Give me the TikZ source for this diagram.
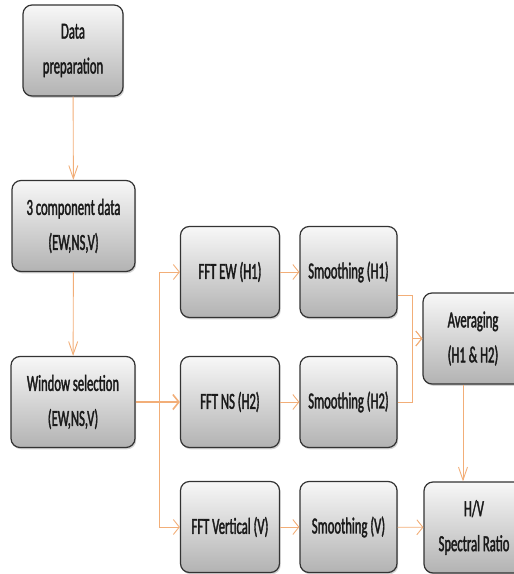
\documentclass[tikz,border=0pt]{standalone}
\usepackage{fontspec}
\usepackage{xcolor}
\usetikzlibrary{arrows.meta}
\usetikzlibrary{shadows}
\newfontfamily\boxfont[FakeStretch=0.55,FakeBold=1.6]{Carlito}
\definecolor{flowline}{HTML}{F2AE78}
\definecolor{boxedge}{HTML}{333333}
\definecolor{boxtext}{HTML}{1A1A1A}

\begin{document}
\begin{tikzpicture}[x=1pt,y=-1pt,
                    stepbox/.style={draw=boxedge,line width=1.2pt,rounded corners=9pt,
                        top color=black!3,bottom color=black!30,
                        drop shadow={shadow xshift=1.2pt,shadow yshift=-1.8pt,opacity=0.35},
                        minimum width=#1,minimum height=91pt,inner sep=0pt,align=center,
                        text=boxtext,font=\boxfont\fontsize{23}{35}\selectfont},
                    stepbox/.default=99pt,
                    harrow/.style={draw=flowline,line width=0.9pt,-{Straight Barb[length=6pt,width=15pt]}},
                    varrow/.style={draw=flowline,line width=0.9pt,-{Straight Barb[length=13pt,width=9pt]}}]
                    \useasboundingbox (0,0) rectangle (514,574);
                    \clip (0,0) rectangle (514,574);

                    \node[stepbox=100pt] (prep) at (73,50.5){Data\\preparation};
                    \node[stepbox=123pt] (comp) at (73.5,226){3 component data\\(EW,NS,V)};
                    \node[stepbox=124pt] (win) at (73,402){Window selection\\(EW,NS,V)};

                    \node[stepbox] (fftew) at (230,272){FFT EW (H1)};
                    \node[stepbox] (fftns) at (230,402){FFT NS (H2)};
                    \node[stepbox] (fftv) at (230,527){FFT Vertical (V)};

                    \node[stepbox=97pt] (smh1) at (348.5,272){Smoothing (H1)};
                    \node[stepbox=97pt] (smh2) at (348.5,402){Smoothing (H2)};
                    \node[stepbox=97pt] (smv) at (348.5,527){Smoothing (V)};

                    \node[stepbox=100pt] (avg) at (473,338.5){Averaging\\(H1 \& H2)};
                    \node[stepbox=100pt] (hv) at (474,527.5){H/V\\Spectral Ratio};

                    \coordinate (split) at (159,402);
                    \coordinate (join) at (412,338.5);

                    \draw[varrow] (prep) -- (comp);
                    \draw[varrow] (comp) -- (win);
                    \draw[harrow] (win.east) -- (split) |- (fftew.west);
                    \draw[harrow,line width=1.6pt] (win.east) -- (fftns.west);
                    \draw[harrow] (win.east) -- (split) |- (fftv.west);

                    \draw[harrow] (fftew) -- (smh1);
                    \draw[harrow] (fftns) -- (smh2);
                    \draw[harrow] (fftv) -- (smv);

                    \draw[harrow] ([yshift=-23pt]smh1.east) -| (join) -- (avg.west);
                    \draw[harrow] (smh2.east) -| (join) -- (avg.west);
                    \draw[harrow] (smv) -- (hv);
                    \draw[varrow] ([xshift=-10pt]avg.south) -- ([xshift=-11pt]hv.north);
                \end{tikzpicture}
\end{document}
